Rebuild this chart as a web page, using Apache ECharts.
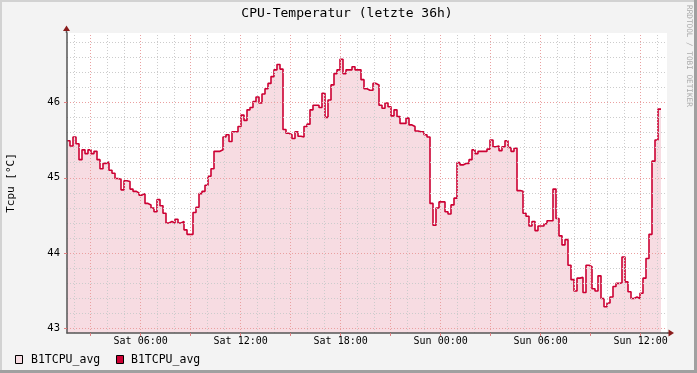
<!DOCTYPE html>
<html><head><meta charset="utf-8">
<script src="https://cdn.jsdelivr.net/npm/echarts@6/dist/echarts.min.js"></script>
<style>html,body{margin:0;padding:0;background:#f3f3f3}#c{width:697px;height:373px}</style>
</head><body><div id="c"></div>
<script>
const chartTitle = 'CPU-Temperatur (letzte 36h)';
const yAxisTitle = 'Tcpu [°C]';
const seriesName = 'B1TCPU_avg';
const watermark = 'RRDTOOL / TOBI OETIKER';

// time in hours since Sat 00:00
const startHour = 1.58;
const stepHours = 0.18;
const xMin = 1.58, xMax = 37.58;
const yMin = 42.943, yMax = 46.918;

const tempsSatMorning = [
  45.49, 45.42, 45.54, 45.45, 45.24, 45.37, 45.32, 45.37, 45.32, 45.35,
  45.24, 45.12, 45.19, 45.21, 45.10, 45.06, 44.99, 44.98, 44.84, 44.96,
  44.95, 44.85, 44.82, 44.80, 44.77, 44.79, 44.66, 44.64, 44.60, 44.55,
  44.71, 44.63, 44.53, 44.40, 44.42, 44.40, 44.45, 44.40, 44.42, 44.31,
  44.25, 44.25, 44.54, 44.61, 44.79, 44.82, 44.90, 45.02, 45.12, 45.35,
  45.35
];
const tempsSatAfternoon = [
  45.37, 45.54, 45.57, 45.48, 45.61, 45.61, 45.68, 45.83, 45.76, 45.90,
  45.93, 46.01, 46.07, 45.99, 46.11, 46.18, 46.25, 46.34, 46.43, 46.50,
  46.44, 45.64, 45.59, 45.57, 45.52, 45.61, 45.55, 45.54, 45.68, 45.71,
  45.90, 45.96, 45.96, 45.93, 46.12, 45.80, 46.03, 46.23, 46.38, 46.43,
  46.57, 46.38, 46.43, 46.43, 46.47, 46.43
];
const tempsSatNight = [
  46.43, 46.30, 46.18, 46.16, 46.16, 46.25, 46.23, 45.96, 45.92, 45.99,
  45.94, 45.82, 45.90, 45.81, 45.72, 45.72, 45.79, 45.70, 45.68, 45.62,
  45.61, 45.61, 45.57, 45.54, 44.66, 44.37, 44.60, 44.68, 44.68, 44.55,
  44.52, 44.64, 44.73, 45.20, 45.17, 45.19, 45.19, 45.24, 45.37, 45.32,
  45.35, 45.35, 45.35, 45.38, 45.50, 45.41, 45.42, 45.36, 45.41, 45.49,
  45.40, 45.35, 45.39, 44.83
];
const tempsSunday = [
  44.82, 44.53, 44.49, 44.36, 44.42, 44.30, 44.36, 44.36, 44.39, 44.43,
  44.43, 44.85, 44.46, 44.23, 44.11, 44.18, 43.84, 43.65, 43.50, 43.67,
  43.68, 43.48, 43.84, 43.82, 43.53, 43.50, 43.70, 43.40, 43.29, 43.34,
  43.42, 43.56, 43.60, 43.61, 43.95, 43.62, 43.49, 43.40, 43.42, 43.40,
  43.47, 43.67, 43.93, 44.25, 45.22, 45.50, 45.91
];

const xLabelHours = [6, 12, 18, 24, 30, 36];
const xLabels = ['Sat 06:00', 'Sat 12:00', 'Sat 18:00', 'Sun 00:00', 'Sun 06:00', 'Sun 12:00'];
const yLabelValues = [43, 44, 45, 46];

const temps = [].concat(tempsSatMorning, tempsSatAfternoon, tempsSatNight, tempsSunday);
const points = temps.map((v, i) => [startHour + i * stepHours, v]);
points.push([startHour + temps.length * stepHours, temps[temps.length - 1]]);

// grid line positions
const gridMinorHours = [], gridMajorHours = [];
for (let h = 2; h <= 37; h++) (h % 3 === 0 ? gridMajorHours : gridMinorHours).push(h);
const gridMinorTemps = [];
for (let i = 1; i <= 19; i++) { const v = +(43 + i * 0.2).toFixed(1); if (v % 1 !== 0) gridMinorTemps.push(v); }
const gridMajorTemps = yLabelValues.slice();

const MONO = 'DejaVu Sans Mono';
const minorStyle = { color: '#cccccc', type: [1, 2], width: 1 };
const majorStyle = { color: '#eaa0a0', type: [1, 2], width: 1 };
const gridLines = [].concat(
  gridMinorHours.map(h => ({ xAxis: h, lineStyle: minorStyle })),
  gridMinorTemps.map(t => ({ yAxis: t, lineStyle: minorStyle })),
  gridMajorHours.map(h => ({ xAxis: h, lineStyle: majorStyle })),
  gridMajorTemps.map(t => ({ yAxis: t, lineStyle: majorStyle }))
);

const fillColor = '#f7dce2';
const lineColor = '#cc0033';

const chart = echarts.init(document.getElementById('c'), null, { renderer: 'canvas' });
chart.setOption({
  animation: false,
  backgroundColor: '#f3f3f3',
  grid: { left: 67, top: 33, width: 600, height: 300, show: true, backgroundColor: '#ffffff', borderWidth: 0 },
  xAxis: {
    type: 'value', min: xMin, max: xMax, z: 10,
    splitLine: { show: false },
    axisLine: { show: true, lineStyle: { color: '#555555', width: 1.5 } },
    axisTick: { show: true, customValues: gridMajorHours, length: 3, lineStyle: { color: '#e08080' } },
    axisLabel: {
      customValues: xLabelHours, margin: 3,
      formatter: v => xLabels[xLabelHours.indexOf(Math.round(v))],
      fontFamily: MONO, fontSize: 10, color: '#000'
    }
  },
  yAxis: {
    type: 'value', min: yMin, max: yMax, z: 10,
    splitLine: { show: false },
    axisLine: { show: true, lineStyle: { color: '#555555', width: 1.5 } },
    axisTick: { show: true, customValues: gridMajorTemps, length: 3, lineStyle: { color: '#e08080' } },
    axisLabel: {
      customValues: yLabelValues, margin: 7,
      formatter: v => String(Math.round(v)),
      fontFamily: MONO, fontSize: 10.5, color: '#000'
    }
  },
  series: [
    {
      name: seriesName, type: 'line', step: 'end', data: points, z: 1,
      symbol: 'none', lineStyle: { width: 0, opacity: 0 },
      areaStyle: { color: fillColor, opacity: 1, origin: 'start' }
    },
    {
      name: 'grid', type: 'line', data: points, z: 2,
      symbol: 'none', lineStyle: { width: 0, opacity: 0 },
      markLine: { silent: true, symbol: ['none', 'none'], label: { show: false }, animation: false, data: gridLines }
    },
    {
      name: seriesName, type: 'line', step: 'end', data: points, z: 3,
      symbol: 'none', lineStyle: { color: lineColor, width: 1.6 }
    }
  ],
  graphic: [
    { type: 'rect', shape: { x: 0, y: 0, width: 697, height: 2 }, style: { fill: '#d2d2d2' }, silent: true },
    { type: 'rect', shape: { x: 0, y: 0, width: 2, height: 373 }, style: { fill: '#d2d2d2' }, silent: true },
    { type: 'rect', shape: { x: 694, y: 0, width: 3, height: 373 }, style: { fill: '#a0a0a0' }, silent: true },
    { type: 'rect', shape: { x: 0, y: 370, width: 697, height: 3 }, style: { fill: '#a0a0a0' }, silent: true },
    { type: 'text', x: 347, y: 14, style: { text: chartTitle, font: '13px "DejaVu Sans Mono"', fill: '#000', align: 'center', verticalAlign: 'middle' }, silent: true },
    { type: 'text', x: 11, y: 183, rotation: Math.PI / 2, style: { text: yAxisTitle, font: '11px "DejaVu Sans Mono"', fill: '#000', align: 'center', verticalAlign: 'middle' }, silent: true },
    { type: 'text', x: 689, y: 5, rotation: -Math.PI / 2, style: { text: watermark, font: '7.7px "DejaVu Sans Mono"', fill: '#aaaaaa', align: 'left', verticalAlign: 'middle' }, silent: true },
    { type: 'line', shape: { x1: 66.5, y1: 33, x2: 66.5, y2: 30 }, style: { stroke: '#555555', lineWidth: 1.5 }, z: 20, silent: true },
    { type: 'polygon', shape: { points: [[63, 31], [70, 31], [66.5, 25.5]] }, style: { fill: '#8a1c1c' }, z: 20, silent: true },
    { type: 'line', shape: { x1: 667, y1: 333, x2: 670, y2: 333 }, style: { stroke: '#555555', lineWidth: 1.5 }, z: 20, silent: true },
    { type: 'polygon', shape: { points: [[668.5, 329.5], [668.5, 336.5], [674, 333]] }, style: { fill: '#8a1c1c' }, z: 20, silent: true },
    { type: 'rect', shape: { x: 15.5, y: 355.5, width: 7, height: 8 }, style: { fill: fillColor, stroke: '#000', lineWidth: 1 }, silent: true },
    { type: 'text', x: 31, y: 360, style: { text: seriesName, font: '11.5px "DejaVu Sans Mono"', fill: '#000', verticalAlign: 'middle' }, silent: true },
    { type: 'rect', shape: { x: 116.5, y: 355.5, width: 7, height: 8 }, style: { fill: lineColor, stroke: '#000', lineWidth: 1 }, silent: true },
    { type: 'text', x: 131, y: 360, style: { text: seriesName, font: '11.5px "DejaVu Sans Mono"', fill: '#000', verticalAlign: 'middle' }, silent: true }
  ]
});
</script>
</body></html>
